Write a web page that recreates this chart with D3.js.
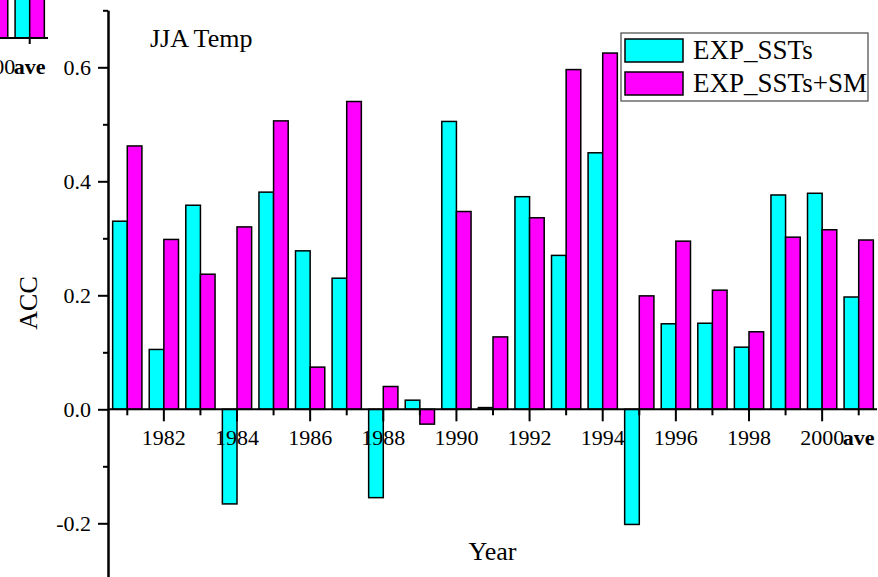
<!DOCTYPE html>
<html>
<head>
<meta charset="utf-8">
<script src="https://cdn.jsdelivr.net/npm/d3@7"></script>
<style>
  html, body { margin: 0; padding: 0; background: #fff; }
  svg { display: block; }
  text { font-family: "Liberation Serif", "Times New Roman", serif; fill: #000; }
</style>
</head>
<body>
<svg id="chart" width="878" height="577"></svg>
<script>
// Categories: JJA seasons 1981-2000 plus the all-year average
const years = d3.range(1981, 2001).map(String);
const categories = years.concat(["ave"]);
const seriesNames = ["EXP_SSTs", "EXP_SSTs+SM"];
const seriesColors = ["#00ffff", "#ff00ff"];

// Anomaly correlation coefficients
const accSSTs = [0.330, 0.105, 0.358, -0.166, 0.381, 0.278, 0.230, -0.155, 0.016, 0.505,
                 0.003, 0.373, 0.270, 0.450, -0.202, 0.150, 0.151, 0.109, 0.376, 0.379, 0.197];
const accSSTsSM = [0.462, 0.298, 0.237, 0.320, 0.506, 0.074, 0.540, 0.040, -0.026, 0.347,
                   0.127, 0.336, 0.596, 0.625, 0.199, 0.295, 0.209, 0.136, 0.302, 0.315, 0.297];

// Y ticks
const yMajorTicks = [-0.2, 0.0, 0.2, 0.4, 0.6];
const yMinorTicks = [-0.3, -0.1, 0.1, 0.3, 0.5, 0.7];

// Neighbouring panel's last two categories (only their lower part falls in view)
const neighbourCats = ["2000", "ave"];
const neighbourSSTs = [0.30, 0.25];
const neighbourSSTsSM = [0.32, 0.28];

const svg = d3.select("#chart");

const x = d3.scaleBand().domain(categories).range([109, 877]).paddingInner(0.2).paddingOuter(0.1);
const xs = d3.scaleBand().domain(seriesNames).range([0, x.bandwidth()]);
const y = d3.scaleLinear().domain([-0.3, 0.7]).range([580.3, 10.3]);
const yAxisX = 108;

const isMajorCat = c => c !== "ave" && (+c) % 2 === 0;

function drawBars(g, cats, a, b) {
  const rows = cats.map((c, i) => ({ c, vals: [a[i], b[i]] }));
  const grp = g.selectAll("g.cat").data(rows).join("g")
    .attr("class", "cat")
    .attr("transform", d => `translate(${x(d.c)},0)`);
  grp.selectAll("rect").data(d => d.vals.map((v, k) => ({ v, k }))).join("rect")
    .attr("x", d => xs(seriesNames[d.k]))
    .attr("width", xs.bandwidth())
    .attr("y", d => y(Math.max(0, d.v)))
    .attr("height", d => Math.abs(y(d.v) - y(0)))
    .attr("fill", d => seriesColors[d.k])
    .attr("stroke", "#000")
    .attr("stroke-width", 1.5);
}

function drawXAxis(g, cats) {
  const major = d3.axisBottom(x).tickValues(cats.filter(isMajorCat))
    .tickSize(12).tickSizeOuter(0).tickPadding(8);
  const minor = d3.axisBottom(x).tickValues(cats.filter(c => !isMajorCat(c)))
    .tickSize(6).tickSizeOuter(0).tickPadding(14)
    .tickFormat(c => c === "ave" ? "ave" : "");
  [major, minor].forEach(ax => {
    const a = g.append("g").attr("transform", `translate(0,${y(0)})`).call(ax);
    a.select(".domain").remove();
    a.selectAll("line").attr("stroke", "#000").attr("stroke-width", 2);
    a.selectAll("text").attr("font-size", 22).style("font-family", '"Liberation Serif","Times New Roman",serif')
      .attr("font-weight", d => d === "ave" ? "bold" : "normal");
  });
  g.append("line")
    .attr("x1", yAxisX).attr("x2", x.range()[1])
    .attr("y1", y(0)).attr("y2", y(0))
    .attr("stroke", "#000").attr("stroke-width", 2);
}

// Neighbouring panel fragment at the top-left corner
const neighbour = svg.append("g").attr("transform", "translate(-829,-371.3)");
drawBars(neighbour, neighbourCats, neighbourSSTs, neighbourSSTsSM);
drawXAxis(neighbour, neighbourCats);

// Main panel
const plot = svg.append("g");
drawBars(plot, categories, accSSTs, accSSTsSM);
drawXAxis(plot, categories);

// Y axis (plain hyphen for negative labels)
const fmt = d3.format(".1f");
const yMajor = d3.axisLeft(y).tickValues(yMajorTicks).tickSize(10).tickSizeOuter(0).tickPadding(7)
  .tickFormat(d => fmt(d).replace("\u2212", "-"));
const yMinor = d3.axisLeft(y).tickValues(yMinorTicks).tickSize(5).tickSizeOuter(0).tickFormat("");
[yMajor, yMinor].forEach(ax => {
  const a = plot.append("g").attr("transform", `translate(${yAxisX},0)`).call(ax);
  a.select(".domain").attr("stroke", "#000").attr("stroke-width", 2);
  a.selectAll("line").attr("stroke", "#000").attr("stroke-width", 2);
  a.selectAll("text").attr("font-size", 22).style("font-family", '"Liberation Serif","Times New Roman",serif');
});

// Axis titles and panel title
svg.append("text").attr("x", (yAxisX + x.range()[1]) / 2).attr("y", 560)
  .attr("text-anchor", "middle").attr("font-size", 26).text("Year");
svg.append("text").attr("transform", "translate(37,303) rotate(-90)")
  .attr("text-anchor", "middle").attr("font-size", 26).text("ACC");
svg.append("text").attr("x", 150).attr("y", 47).attr("font-size", 26).text("JJA Temp");

// Legend
const legend = svg.append("g").attr("transform", "translate(621,33)");
legend.append("rect").attr("width", 247).attr("height", 68)
  .attr("fill", "#fff").attr("stroke", "#555").attr("stroke-width", 1.3);
const items = legend.selectAll("g.item").data(seriesNames).join("g")
  .attr("class", "item")
  .attr("transform", (d, i) => `translate(4,${6 + i * 33})`);
items.append("rect").attr("width", 58).attr("height", 23)
  .attr("fill", (d, i) => seriesColors[i]).attr("stroke", "#000").attr("stroke-width", 1.5);
items.append("text").attr("x", 68).attr("y", 20).attr("font-size", 27).text(d => d);
</script>
</body>
</html>
